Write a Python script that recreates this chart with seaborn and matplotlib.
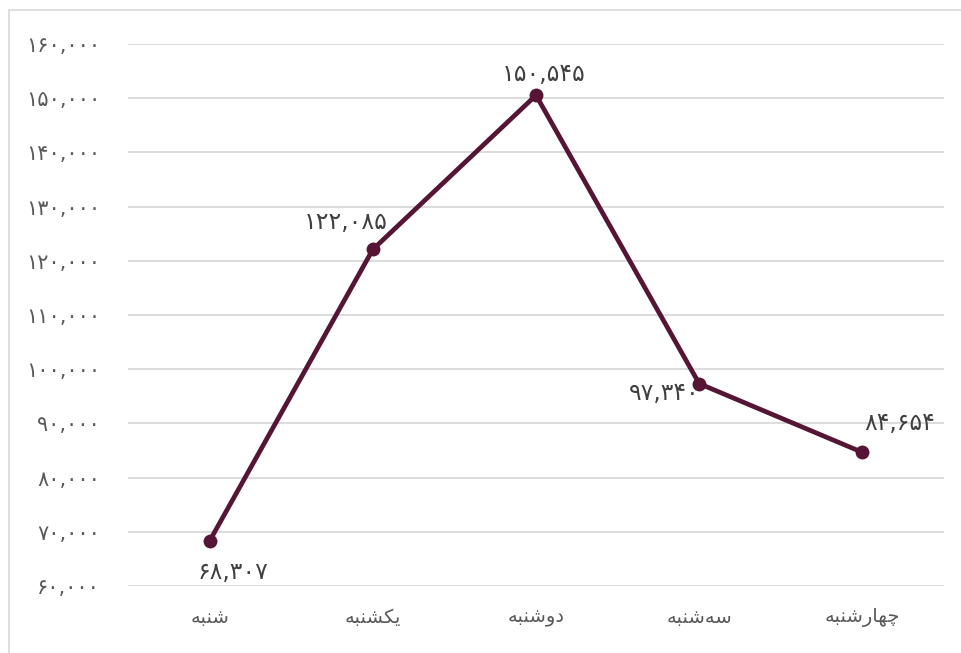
import seaborn as sns
import pandas as pd
import matplotlib.pyplot as plt
from matplotlib.patches import Rectangle
from matplotlib.ticker import FuncFormatter

days = ["شنبه", "یکشنبه", "دوشنبه", "سه‌شنبه", "چهارشنبه"]
visits = [68307, 122085, 150545, 97340, 84654]
y_ticks = [60000, 70000, 80000, 90000, 100000, 110000, 120000, 130000, 140000, 150000, 160000]

# presentation forms: isolated, final, initial, medial
FORMS = {
    "ا": ("\uFE8D", "\uFE8E", None, None),
    "ب": ("\uFE8F", "\uFE90", "\uFE91", "\uFE92"),
    "چ": ("\uFB7A", "\uFB7B", "\uFB7C", "\uFB7D"),
    "د": ("\uFEA9", "\uFEAA", None, None),
    "ر": ("\uFEAD", "\uFEAE", None, None),
    "س": ("\uFEB1", "\uFEB2", "\uFEB3", "\uFEB4"),
    "ش": ("\uFEB5", "\uFEB6", "\uFEB7", "\uFEB8"),
    "ک": ("\uFB8E", "\uFB8F", "\uFB90", "\uFB91"),
    "ن": ("\uFEE5", "\uFEE6", "\uFEE7", "\uFEE8"),
    "ه": ("\uFEE9", "\uFEEA", "\uFEEB", "\uFEEC"),
    "و": ("\uFEED", "\uFEEE", None, None),
    "ی": ("\uFBFC", "\uFBFD", "\uFBFE", "\uFBFF"),
}


def shape(word):
    chars = list(word)
    out = []
    for i, c in enumerate(chars):
        if c not in FORMS:
            continue
        prev = chars[i - 1] if i > 0 else None
        nxt = chars[i + 1] if i + 1 < len(chars) else None
        joins_prev = prev in FORMS and FORMS[prev][2] is not None
        joins_next = nxt in FORMS and FORMS[c][2] is not None
        iso, fin, ini, med = FORMS[c]
        if joins_prev and joins_next:
            out.append(med)
        elif joins_prev:
            out.append(fin)
        elif joins_next:
            out.append(ini)
        else:
            out.append(iso)
    return "".join(reversed(out))


def fa_num(n):
    return f"{int(n):,}".translate(str.maketrans("0123456789", "۰۱۲۳۴۵۶۷۸۹"))


df = pd.DataFrame({"pos": range(len(days)), "visits": visits})

sns.set_theme(style="white")
plt.rcParams["font.family"] = ["DejaVu Sans"]

fig = plt.figure(figsize=(9.61, 6.53), dpi=100)
ax = fig.add_axes([128 / 961, 67 / 653, 816 / 961, 542 / 653])

ax.yaxis.grid(True, color="#d9d9d9", linewidth=1.3)
ax.set_axisbelow(True)

color = "#561535"
sns.lineplot(data=df, x="pos", y="visits", ax=ax, color=color, linewidth=3.4,
             marker="o", markersize=10, markeredgewidth=0)

offsets = [(23, -31), (-27, 27), (8, 21), (-35, -9), (37, 29)]
for x, v, off in zip(df["pos"], df["visits"], offsets):
    ax.annotate(fa_num(v), (x, v), xytext=off, textcoords="offset pixels",
                ha="center", va="center", fontsize=17, color="#404040")

ax.set_xlim(-0.5, 4.5)
ax.set_ylim(60000, 160000)
ax.set_yticks(y_ticks)
ax.yaxis.set_major_formatter(FuncFormatter(lambda v, p: fa_num(v)))
ax.set_xticks(range(len(days)))
ax.set_xticklabels([shape(d) for d in days])
ax.tick_params(axis="y", labelsize=15, labelcolor="#595959", length=0, pad=20)
ax.tick_params(axis="x", labelsize=14, labelcolor="#595959", length=0, pad=16)
ax.set_xlabel("")
ax.set_ylabel("")
sns.despine(ax=ax, left=True, bottom=True)

fig.patches.append(Rectangle((9 / 961, -0.05), 1.0, (643 / 653) + 0.05,
                             transform=fig.transFigure, fill=False,
                             edgecolor="#d9d9d9", linewidth=1.2))

fig.savefig("out.png", dpi=100)
